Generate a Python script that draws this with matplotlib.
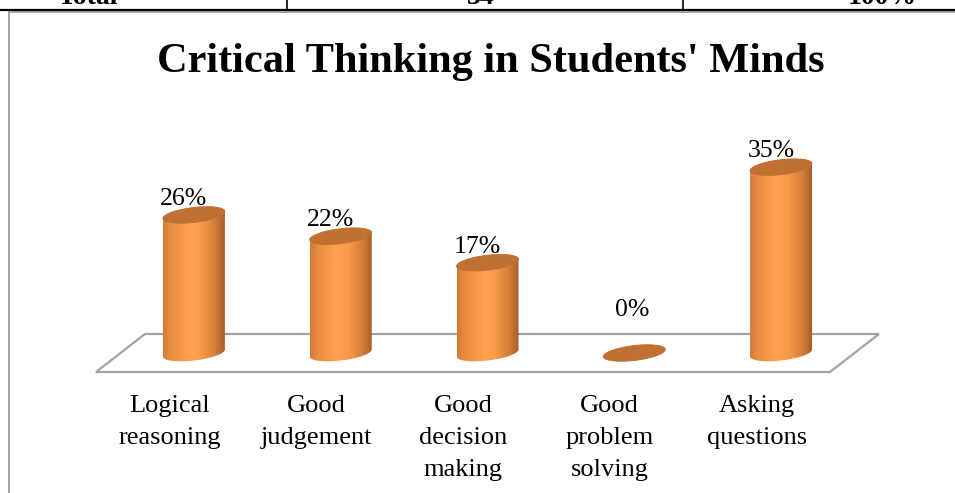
import numpy as np
import matplotlib
matplotlib.use("Agg")
import matplotlib.pyplot as plt
from matplotlib.patches import Polygon
from matplotlib.lines import Line2D
from matplotlib.colors import LinearSegmentedColormap

# ---- data ----
categories = ["Logical\nreasoning", "Good\njudgement", "Good\ndecision\nmaking",
              "Good\nproblem\nsolving", "Asking\nquestions"]
values = [26, 22, 17, 0, 35]
value_labels = ["26%", "22%", "17%", "0%", "35%"]
title = "Critical Thinking in Students' Minds"
table_row = ["Total", "34", "100%"]

# ---- layout (pixels of the 955x493 canvas) ----
W_PX, H_PX, DPI = 955, 493, 100
PX_PER_CAT = 146.8      # horizontal spacing of categories
FRONT_LEFT_PX = 96      # left end of the floor's front edge
BASE_PX = 353           # row of the cylinder bases
PX_PER_PCT = 5.31       # vertical scale
DEPTH_X_PX, DEPTH_Y_PX = 24.5, 19.0   # half depth of the floor (oblique view)

fig = plt.figure(figsize=(W_PX / DPI, H_PX / DPI), dpi=DPI)
fig.patch.set_facecolor("white")
ax = fig.add_axes([0, 0, 1, 1])
ax.set_xlim((0 - FRONT_LEFT_PX) / PX_PER_CAT - 0.5, (W_PX - FRONT_LEFT_PX) / PX_PER_CAT - 0.5)
ax.set_ylim((BASE_PX - H_PX) / PX_PER_PCT, BASE_PX / PX_PER_PCT)
ax.axis("off")

DX = DEPTH_X_PX / PX_PER_CAT
DY = DEPTH_Y_PX / PX_PER_PCT
n = len(values)

# floor of the 3-D plot
floor = Polygon([(-0.5, -DY), (n - 0.5, -DY), (n - 0.5 + 2 * DX, DY), (-0.5 + 2 * DX, DY)],
                closed=True, facecolor="white", edgecolor="#a3a3a3", lw=1.6, zorder=1)
ax.add_patch(floor)

# cylinder geometry
A = 31.0 / PX_PER_CAT           # horizontal semi-axis
B = 7.5 / PX_PER_PCT            # vertical semi-axis of the ellipses
SHEAR = (3.5 / PX_PER_PCT) / A  # ellipses rise slightly to the right

body_cmap = LinearSegmentedColormap.from_list(
    "cyl", [(0.0, "#d07b36"), (0.12, "#e98c40"), (0.45, "#ffa24f"),
            (0.62, "#f89a49"), (0.85, "#d27c38"), (1.0, "#a85d26")])
TOP_COLOR = "#c07033"


def ellipse_pts(cx, cy, t):
    x = cx + A * np.cos(t)
    y = cy + B * np.sin(t) + SHEAR * A * np.cos(t)
    return np.column_stack([x, y])


for i, v in enumerate(values):
    cx = i + DX
    if v > 0:
        bottom = ellipse_pts(cx, 0, np.linspace(np.pi, 2 * np.pi, 80))
        top = ellipse_pts(cx, v, np.linspace(0, np.pi, 80))
        body = Polygon(np.vstack([bottom, top]), closed=True, facecolor="none",
                       edgecolor="none", zorder=3)
        ax.add_patch(body)
        grad = np.linspace(0, 1, 256).reshape(1, -1).repeat(2, axis=0)
        im = ax.imshow(grad, cmap=body_cmap, aspect="auto", origin="lower",
                       extent=[cx - A, cx + A, -B - SHEAR * A, v + B + SHEAR * A],
                       interpolation="bilinear", zorder=3)
        im.set_clip_path(body)
    top_face = Polygon(ellipse_pts(cx, v, np.linspace(0, 2 * np.pi, 120)), closed=True,
                       facecolor=TOP_COLOR, edgecolor=TOP_COLOR, lw=0.6, zorder=4)
    ax.add_patch(top_face)

# value labels
MIN_LABEL_LEVEL = 5.1
LABEL_GAP = 1.9
for i, (v, lab) in enumerate(zip(values, value_labels)):
    shift = 10.0 / PX_PER_CAT if v > 0 else 2.0 / PX_PER_CAT
    ax.text(i + DX - shift, max(v, MIN_LABEL_LEVEL) + LABEL_GAP, lab,
            ha="center", va="baseline", fontsize=18.5, family="Liberation Serif",
            color="black", zorder=5)

# category labels along the front edge of the floor
for i, cat in enumerate(categories):
    ax.text(i, -DY - 4.3, cat, ha="center", va="top", fontsize=19,
            family="Liberation Serif", linespacing=1.6, color="black")

# title
fig.text(490.5 / W_PX, 1 - 72 / H_PX, title, ha="center", va="baseline",
         fontsize=30.5, fontweight="bold", family="Liberation Serif")


# surrounding document table fragment
def fx(px):
    return px / W_PX


def fy(py):
    return 1 - py / H_PX


fig.add_artist(Line2D([0, 1], [fy(9.5), fy(9.5)], color="black", lw=1.6))
for xp in (287, 683):
    fig.add_artist(Line2D([fx(xp), fx(xp)], [fy(0), fy(9.5)], color="black", lw=1.2))
fig.add_artist(Line2D([fx(9), 1], [fy(12), fy(12)], color="#9a9a9a", lw=1.3))
fig.add_artist(Line2D([fx(9), fx(9)], [fy(12), 0], color="#9a9a9a", lw=1.3))
for txt, xp in zip(table_row, (88, 481, 882)):
    fig.text(fx(xp), fy(4), txt, ha="center", va="baseline", fontsize=20,
             fontweight="bold", family="Liberation Serif")

fig.savefig("out.png", dpi=DPI, facecolor="white")
